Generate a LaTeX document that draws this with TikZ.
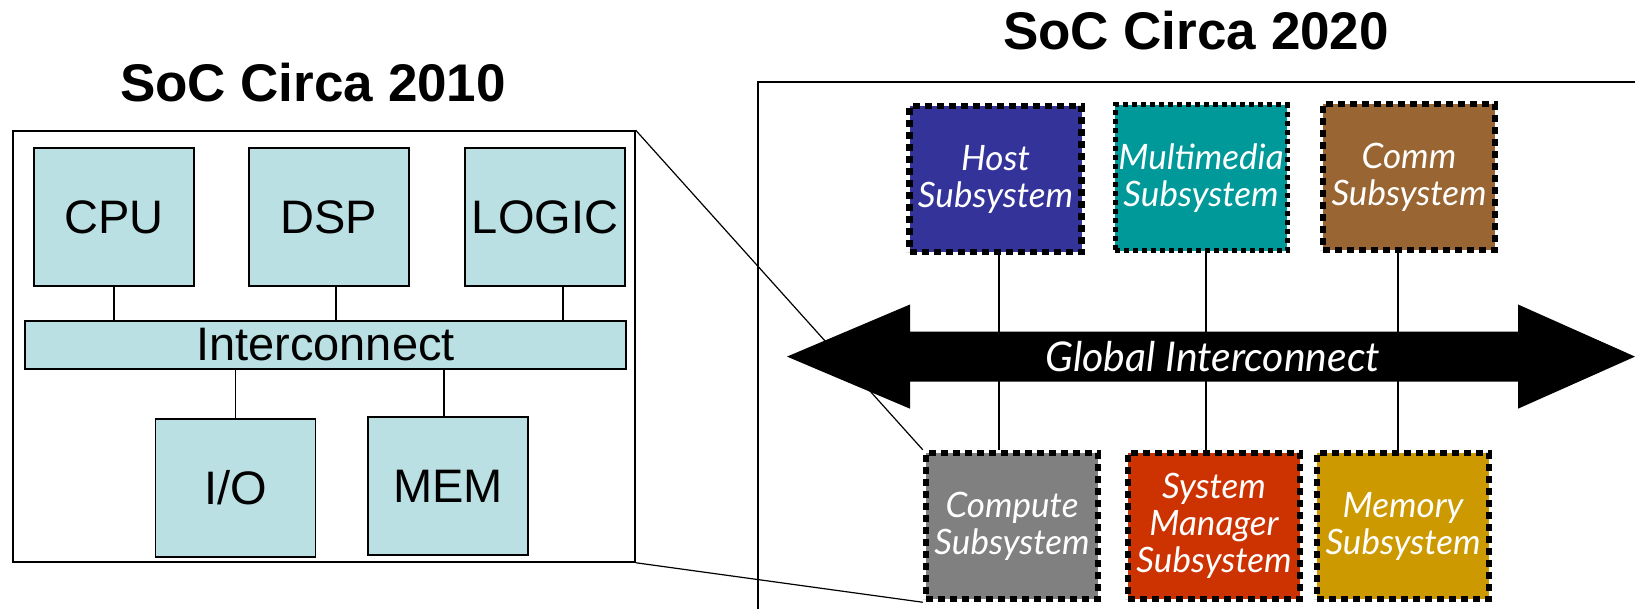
\documentclass[tikz,border=0pt]{standalone}
\usepackage{fontspec}
\setmainfont{Liberation Sans}
\newfontfamily\handfont{Lato}
\usetikzlibrary{calc}

\definecolor{blockfill}{HTML}{BBE0E3}
\definecolor{hostcol}{HTML}{333399}
\definecolor{mediacol}{HTML}{009999}
\definecolor{commcol}{HTML}{996633}
\definecolor{computecol}{HTML}{808080}
\definecolor{managercol}{HTML}{CC3300}
\definecolor{memorycol}{HTML}{CC9900}

\tikzset{
	block/.style = {draw, line width=1.5pt, fill=blockfill, inner sep=1pt, minimum width=160pt, minimum height=138pt, font=\fontsize{47}{50}\selectfont},
	subsys/.style = {draw, line width=6.5pt, dash pattern=on 7pt off 5pt, inner sep=1pt, minimum width=172pt, minimum height=146pt, text=white, align=center, font=\handfont\itshape\fontsize{35}{37}\selectfont},
	wire/.style = {line width=1.2pt},
	title/.style = {anchor=base, font=\bfseries\fontsize{53}{60}\selectfont}
}

\begin{document}
\begin{tikzpicture}[x=1pt, y=-1pt]
			\useasboundingbox (0,0) rectangle (1635,609);
			
			\node[title] (t2010) at (313,102) {SoC Circa 2010};
			\node[title] (t2020) at (1196,50) {SoC Circa 2020};
			
			\node[draw, line width=1.5pt, minimum width=622pt, minimum height=431pt] (soc10) at (324,346.5) {};
			\draw[line width=1.5pt] (1635,82) -| (758,609);
			
			\node[block] (cpu) at (114,217) {CPU};
			\node[block] (dsp) at (329,217) {DSP};
			\node[block] (logic) at (545,217) {LOGIC};
			\node[block, minimum width=601pt, minimum height=48pt] (ic) at (325.5,345) {Interconnect};
			\node[block] (io) at (235.5,488) {I/O};
			\node[block] (mem) at (448,486) {MEM};
			
			\draw[wire] (cpu.south) -- (cpu.south |- ic.north);
			\draw[wire] ([xshift=7pt]dsp.south) -- ([xshift=7pt]dsp.south |- ic.north);
			\draw[wire] ([xshift=18pt]logic.south) -- ([xshift=18pt]logic.south |- ic.north);
			\draw[wire] (io.north) -- (io.north |- ic.south);
			\draw[wire] ([xshift=-4pt]mem.north) -- ([xshift=-4pt]mem.north |- ic.south);
			
			\node[subsys, fill=hostcol] (host) at (995.5,179) {Host\\Subsystem};
			\node[subsys, fill=mediacol, line width=5pt, dash pattern=on 5pt off 4pt] (media) at (1201,178) {Multimedia\\Subsystem};
			\node[subsys, fill=commcol] (comm) at (1409,177) {Comm\\Subsystem};
			\node[subsys, fill=computecol] (compute) at (1012,526) {Compute\\Subsystem};
			\node[subsys, fill=managercol] (manager) at (1214,526) {System\\Manager\\Subsystem};
			\node[subsys, fill=memorycol] (memory) at (1403,526) {Memory\\Subsystem};
			
			\draw[wire] ([xshift=3.5pt]host.south) -- ([xshift=3.5pt]host.south |- compute.north);
			\draw[wire] ([xshift=5pt]media.south) -- ([xshift=5pt]media.south |- manager.north);
			\draw[wire] ([xshift=-11pt]comm.south) -- ([xshift=-11pt]comm.south |- memory.north);
			
			\fill (787,356.6) -- (910,304.5) -- (910,331.6) -- (1518,331.6) -- (1518,304.5) -- (1635,356.6)
				-- (1518,408.7) -- (1518,381.6) -- (910,381.6) -- (910,408.7) -- cycle;
			\node[text=white, font=\handfont\itshape\fontsize{41}{44}\selectfont] (gi) at (1213,356.6) {Global Interconnect};
			
			\draw[wire] (soc10.north east) -- (compute.north west);
			\draw[wire] (soc10.south east) -- (compute.south west);
		\end{tikzpicture}
\end{document}
